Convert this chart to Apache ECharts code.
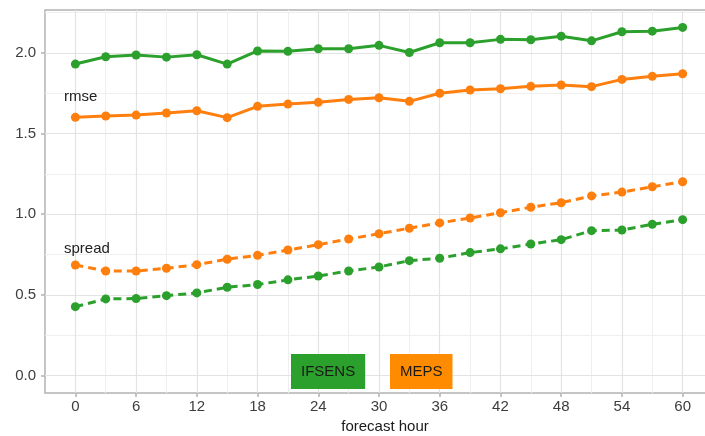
<!DOCTYPE html>
<html>
<head>
<meta charset="utf-8">
<script src="https://cdn.jsdelivr.net/npm/echarts@6/dist/echarts.min.js"></script>
<style>
  html, body { margin: 0; padding: 0; background: #ffffff; }
  #chart { width: 705px; height: 436px; }
</style>
</head>
<body>
<div id="chart"></div>
<script>
// Forecast lead times (hours)
const hours = [0, 3, 6, 9, 12, 15, 18, 21, 24, 27, 30, 33, 36, 39, 42, 45, 48, 51, 54, 57, 60];

// RMSE and ensemble spread per system
const ifsensRmse = [1.930, 1.975, 1.986, 1.973, 1.988, 1.930, 2.011, 2.009, 2.025, 2.025, 2.046, 2.002, 2.062, 2.062, 2.083, 2.081, 2.103, 2.074, 2.130, 2.134, 2.157];
const mepsRmse = [1.600, 1.608, 1.614, 1.627, 1.641, 1.598, 1.668, 1.682, 1.693, 1.711, 1.721, 1.699, 1.749, 1.769, 1.777, 1.792, 1.800, 1.790, 1.835, 1.854, 1.870];
const mepsSpread = [0.685, 0.648, 0.648, 0.665, 0.687, 0.721, 0.745, 0.778, 0.811, 0.846, 0.879, 0.913, 0.946, 0.976, 1.009, 1.043, 1.071, 1.113, 1.137, 1.170, 1.201];
const ifsensSpread = [0.427, 0.475, 0.477, 0.495, 0.512, 0.547, 0.564, 0.593, 0.617, 0.648, 0.673, 0.712, 0.727, 0.762, 0.785, 0.815, 0.842, 0.898, 0.902, 0.937, 0.966];

// Axis breaks
const xMajor = [0, 6, 12, 18, 24, 30, 36, 42, 48, 54, 60];
const xMinor = [3, 9, 15, 21, 27, 33, 39, 45, 51, 57];
const yMajor = [0, 0.5, 1.0, 1.5, 2.0];
const yMinor = [0.25, 0.75, 1.25, 1.75, 2.25];
const xRange = [-3, 63];
const yRange = [-0.108, 2.265];

const systems = ['IFSENS', 'MEPS'];
const colors = { IFSENS: '#2ca02c', MEPS: '#ff7f0e' };
const FONT = "'Liberation Sans', Arial, sans-serif";

const pairs = vals => hours.map((h, i) => [h, vals[i]]);

function lineSeries(name, vals, dashed) {
  return {
    type: 'line',
    name: name,
    data: pairs(vals),
    xAxisIndex: 0,
    yAxisIndex: 0,
    symbol: 'circle',
    symbolSize: 9,
    showSymbol: true,
    animation: false,
    itemStyle: { color: colors[name] },
    lineStyle: { color: colors[name], width: 3, type: dashed ? [8, 5] : 'solid' },
    emphasis: { disabled: true }
  };
}

function gridAxis(kind, range, values, lineColor, main) {
  return {
    type: 'value',
    min: range[0],
    max: range[1],
    position: kind === 'x' ? 'bottom' : 'left',
    axisLine: { show: false, onZero: false },
    axisTick: {
      show: main,
      customValues: values,
      length: 4,
      lineStyle: { color: '#b3b3b3', width: 1.5 }
    },
    axisLabel: {
      show: main,
      customValues: values,
      color: '#3d3d3d',
      fontSize: 15,
      fontFamily: FONT,
      margin: kind === 'x' ? 6 : 9,
      formatter: v => kind === 'x' ? String(v) : v.toFixed(1)
    },
    splitLine: { show: true, lineStyle: { color: lineColor, width: main ? 1.2 : 1 } },
    z: main ? 2 : 1
  };
}

const xMain = gridAxis('x', xRange, xMajor, '#e3e3e3', true);
xMain.name = 'forecast hour';
xMain.nameLocation = 'middle';
xMain.nameGap = 24;
xMain.nameTextStyle = { color: '#1a1a1a', fontSize: 15, fontFamily: FONT, padding: [0, 0, 0, 12] };
const xSub = gridAxis('x', xRange, xMinor, '#efefef', false);
const yMain = gridAxis('y', yRange, yMajor, '#e3e3e3', true);
const ySub = gridAxis('y', yRange, yMinor, '#efefef', false);

const chart = echarts.init(document.getElementById('chart'), null, { renderer: 'canvas' });

chart.setOption({
  animation: false,
  backgroundColor: '#ffffff',
  grid: {
    left: 45, top: 10, right: -8, bottom: 43,
    outerBoundsMode: 'none',
    containLabel: false,
    show: true,
    borderColor: '#b3b3b3',
    borderWidth: 1.5,
    backgroundColor: 'transparent'
  },
  xAxis: [xMain, xSub],
  yAxis: [yMain, ySub],
  series: [
    lineSeries('MEPS', mepsRmse, false),
    lineSeries('IFSENS', ifsensRmse, false),
    lineSeries('MEPS', mepsSpread, true),
    lineSeries('IFSENS', ifsensSpread, true)
  ],
  graphic: [
    { type: 'text', left: 64, top: 89, z: 10,
      style: { text: 'rmse', font: '15px ' + FONT, fill: '#222222' } },
    { type: 'text', left: 64, top: 241, z: 10,
      style: { text: 'spread', font: '15px ' + FONT, fill: '#222222' } },
    { type: 'text', left: 291, top: 354, z: 10,
      style: { text: systems[0], font: '15px ' + FONT, fill: '#1a1a1a',
               backgroundColor: colors.IFSENS, padding: [9, 10, 9, 10], lineHeight: 17 } },
    { type: 'text', left: 390, top: 354, z: 10,
      style: { text: systems[1], font: '15px ' + FONT, fill: '#1a1a1a',
               backgroundColor: '#ff8c00', padding: [9, 10, 9, 10], lineHeight: 17 } }
  ]
});
</script>
</body>
</html>
